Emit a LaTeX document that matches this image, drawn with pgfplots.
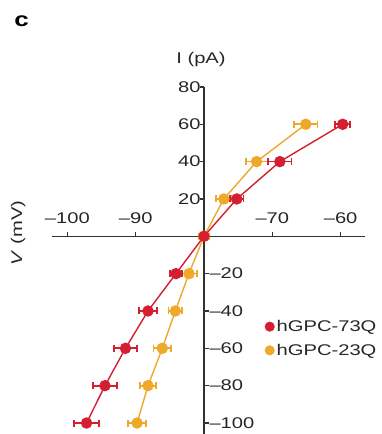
\documentclass[border=0pt]{standalone}
\usepackage{pgfplots}
\pgfplotsset{compat=1.18}
\usepackage{pgfplotstable}
\usepackage{graphicx}
\usepackage{fontspec}
\setmainfont{Liberation Sans}
\newcommand\sx[1]{\scalebox{1.3}[1]{#1}}
\definecolor{cred}{RGB}{212,30,50}
\definecolor{corange}{RGB}{238,168,42}
\definecolor{axgray}{RGB}{50,50,50}

% V (mV), I (pA), horizontal error (mV)
\pgfplotstableread{
V I err
-59.7 60 1.1
-68.9 40 1.7
-75.2 20 1.0
-80.0 0 0.0
-84.1 -20 0.9
-88.2 -40 1.3
-91.5 -60 1.7
-94.5 -80 1.8
-97.2 -100 1.8
}\redtab
\pgfplotstableread{
V I err
-65.1 60 1.7
-72.3 40 1.6
-77.1 20 1.1
-80.0 0 0.8
-82.2 -20 1.2
-84.2 -40 1.0
-86.1 -60 1.3
-88.2 -80 1.2
-89.8 -100 1.3
}\orangetab

\begin{document}
\begin{tikzpicture}
\begin{axis}[
  x=6.83pt, y=1.867pt,
  xmin=-22.25, xmax=23.57, ymin=-105.89, ymax=80,
  axis lines=middle,
  axis line style={-, axgray, line width=1.2pt},
  clip=false,
  font=\fontsize{15.5}{18}\selectfont,
  tick align=inside,
  major tick length=4.5pt,
  tick style={axgray, line width=1.2pt},
  xtick={-20,-10,10,20},
  xticklabels={\sx{–100},\sx{–90},\sx{–70},\sx{–60}},
  xticklabel style={anchor=south, yshift=9pt, text=black!85},
  ytick={20,40,60,80},
  yticklabels={\sx{20},\sx{40},\sx{60},\sx{80}},
  yticklabel style={text=black!85},
  ytick style={xshift=-4.5pt},
  extra y ticks={-20,-40,-60,-80,-100},
  extra y tick labels={\sx{–20},\sx{–40},\sx{–60},\sx{–80},\sx{–100}},
  extra y tick style={ytick style={xshift=4.5pt}, yticklabel style={anchor=west, xshift=2pt}},
  legend style={draw=none, fill=none, at={(axis cs:8.86,-43.8)}, anchor=north west,
    inner sep=0pt, font=\fontsize{15.5}{18}\selectfont, row sep=7pt, text=black!85},
  legend cell align=left,
  legend image code/.code={\fill[#1] (0pt,0pt) circle (4.8pt);},
]
\addlegendimage{cred}
\addlegendentry{\sx{hGPC-73Q}}
\addlegendimage{corange}
\addlegendentry{\sx{hGPC-23Q}}

\addplot[corange, line width=1.4pt, mark=*, mark size=5pt, forget plot,
  error bars/.cd, x dir=both, x explicit,
  error bar style={line width=1.7pt, corange}, error mark options={rotate=90, mark size=3.5pt, line width=1.7pt}]
  table[x expr=\thisrow{V}+80, y=I, x error=err] {\orangetab};
\addplot[cred, line width=1.4pt, mark=*, mark size=5pt, forget plot,
  error bars/.cd, x dir=both, x explicit,
  error bar style={line width=1.7pt, cred}, error mark options={rotate=90, mark size=3.5pt, line width=1.7pt}]
  table[x expr=\thisrow{V}+80, y=I, x error=err] {\redtab};

\node[text=black!85] at (axis cs:-0.44,94.7) {\sx{I (pA)}};
\node[text=black!85, rotate=90] at (axis cs:-27.2,1.8) {\sx{\textit{V} (mV)}};
\node[text=black] at (axis cs:-26.7,115) {\fontsize{20}{22}\selectfont\bfseries\sx{c}};
\coordinate (bbA) at (axis cs:-29.87,-105.89);
\coordinate (bbB) at (axis cs:26.06,126.57);
\end{axis}
\pgfresetboundingbox
\useasboundingbox (bbA) rectangle (bbB);
\end{tikzpicture}
\end{document}
